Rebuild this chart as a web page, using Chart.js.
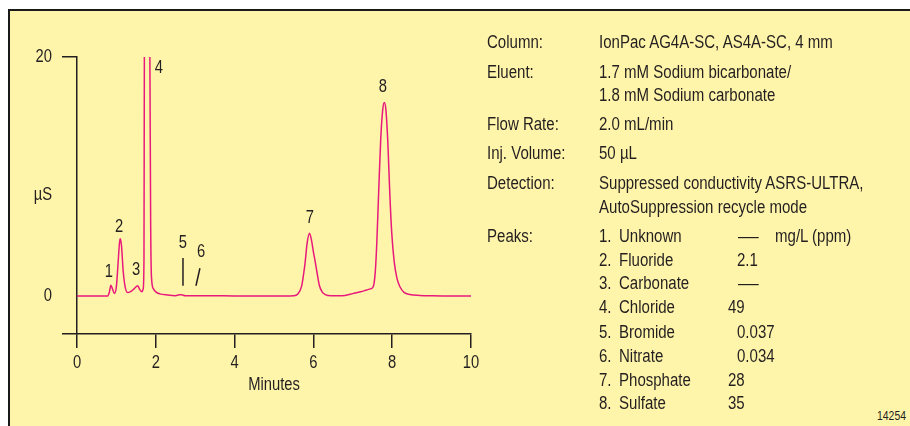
<!DOCTYPE html>
<html>
<head>
<meta charset="utf-8">
<script src="https://cdn.jsdelivr.net/npm/chart.js@4.4.1/dist/chart.umd.min.js"></script>
<style>
  body { margin:0; width:910px; height:426px; overflow:hidden; background:#fff; position:relative;
         font-family:"Liberation Sans",Arial,sans-serif; color:#231f20; }
  #frame { position:absolute; left:8px; top:9px; width:910px; height:430px;
           border-top:2px solid #1a1a1a; border-left:2px solid #1a1a1a; background:#fff5aa; }
  #chart { position:absolute; left:0; top:0; }
  /* narrow look: Liberation Sans squeezed like a condensed face */
  .t { position:absolute; font-size:18px; line-height:20px; white-space:nowrap;
       transform:scaleX(0.835); transform-origin:0 0; }
  .dash { transform:scaleX(1.15); }
  .small { font-size:12.5px; }
</style>
</head>
<body>
<div id="frame"></div>
<canvas id="chart" width="500" height="426"></canvas>

<!-- Run conditions -->
<div class="t" style="left:487px; top:32px">Column:</div>
<div class="t" style="left:599px; top:32px">IonPac AG4A-SC, AS4A-SC, 4 mm</div>
<div class="t" style="left:487px; top:62px">Eluent:</div>
<div class="t" style="left:599px; top:62px">1.7 mM Sodium bicarbonate/</div>
<div class="t" style="left:599px; top:85px">1.8 mM Sodium carbonate</div>
<div class="t" style="left:487px; top:114px">Flow Rate:</div>
<div class="t" style="left:599px; top:114px">2.0 mL/min</div>
<div class="t" style="left:487px; top:143px">Inj. Volume:</div>
<div class="t" style="left:599px; top:143px">50 µL</div>
<div class="t" style="left:487px; top:173px">Detection:</div>
<div class="t" style="left:599px; top:173px">Suppressed conductivity ASRS-ULTRA,</div>
<div class="t" style="left:599px; top:197px">AutoSuppression recycle mode</div>
<div class="t" style="left:487px; top:226px">Peaks:</div>
<div id="peaks"></div>
<div class="t" style="left:775px; top:226px">mg/L (ppm)</div>
<div class="t small" style="left:877px; top:406px">14254</div>

<script>
// Chromatogram trace (minutes, µS)
const traceTime = [0, 0.78, 0.82, 0.86, 0.90, 0.95, 1.00, 1.04, 1.08, 1.10, 1.13, 1.17, 1.22, 1.28, 1.35,
  1.45, 1.54, 1.60, 1.65, 1.68, 1.70, 1.71, 1.78, 1.85, 1.87, 1.89, 1.94, 2.0, 2.1, 2.3, 2.5, 2.6, 2.65,
  2.75, 3.0, 3.5, 4.0, 5.0, 5.5, 5.6, 5.7, 5.75, 5.79, 5.84, 5.90, 5.95, 6.0, 6.05, 6.1, 6.15, 6.22, 6.3,
  6.45, 6.8, 7.0, 7.2, 7.35, 7.45, 7.52, 7.57, 7.61, 7.66, 7.71, 7.76, 7.80, 7.84, 7.89, 7.94, 7.99,
  8.05, 8.12, 8.2, 8.3, 8.45, 8.7, 9.0, 10.0];
const traceSignal = [0, 0, 0.3, 0.9, 0.6, 0.2, 0.8, 2.6, 4.5, 4.8, 4.2, 2.2, 0.8, 0.3, 0.35,
  0.6, 0.85, 0.5, 0.35, 0.6, 3, 20, 45, 20, 6, 1.6, 0.6, 0.35, 0.18, 0.08, 0.03, 0.1, 0.1,
  0.02, 0.03, 0.02, 0, 0, 0.03, 0.15, 0.8, 1.8, 2.8, 4.4, 5.25, 4.7, 3.7, 2.8, 1.8, 0.9, 0.35, 0.12,
  0.02, 0.05, 0.2, 0.35, 0.5, 0.6, 0.8, 2.0, 4.5, 9, 13.2, 15.6, 16.2, 15.6, 12.8, 8.5, 5.2,
  2.9, 1.5, 0.75, 0.3, 0.12, 0.05, 0.02, 0];

const xTicks = [0, 2, 4, 6, 8, 10];
const yTicks = [0, 20];

// Peak numbers placed above the peaks (minutes, µS)
const peakNums = ['1', '2', '3', '4', '5', '6', '7', '8'];
const peakLabelTime = [0.81, 1.07, 1.50, 2.08, 2.69, 3.15, 5.91, 7.76];
const peakLabelSignal = [2.0, 5.8, 2.18, 19.05, 4.46, 3.66, 6.5, 17.46];
// small marker strokes for peaks 5 and 6: [t1, s1, t2, s2]
const peakMarkers = [[2.69, 3.18, 2.69, 0.86], [3.12, 2.32, 3.02, 0.86]];

// Peak table
const peakNames = ['Unknown', 'Fluoride', 'Carbonate', 'Chloride', 'Bromide', 'Nitrate', 'Phosphate', 'Sulfate'];
const peakConc = ['—', '2.1', '—', '49', '0.037', '0.034', '28', '35'];
const peakConcLeft = [738, 737, 738, 728, 737, 737, 728, 728];
const peakRowTop = [226, 250, 273, 297, 322, 346, 370, 393];

const FONT = '"Liberation Sans",Arial,sans-serif';
const SQUEEZE = 0.82;
const TEXT = '#231f20';
const AXIS = '#231f20';
const LINE = '#e8197c';

// build peaks list
const peaksDiv = document.getElementById('peaks');
peakNames.forEach((n, i) => {
    const cls = peakConc[i] === '—' ? 't dash' : 't';
    peaksDiv.innerHTML +=
        `<div class="t" style="left:599px; top:${peakRowTop[i]}px">${i + 1}.</div>` +
        `<div class="t" style="left:619px; top:${peakRowTop[i]}px">${n}</div>` +
        `<div class="${cls}" style="left:${peakConcLeft[i]}px; top:${peakRowTop[i]}px">${peakConc[i]}</div>`;
});

// squeezed text helper for canvas
function narrowText(ctx, str, px, py, align) {
    ctx.save();
    ctx.translate(px, py);
    ctx.scale(SQUEEZE, 1);
    ctx.textAlign = align;
    ctx.fillText(str, 0, 0);
    ctx.restore();
}

// tick labels, peak numbers, marker strokes and axis titles
const peakMarks = {
    id: 'peakMarks',
    afterDatasetsDraw(chart) {
        const { ctx, scales: { x, y }, chartArea } = chart;
        ctx.save();
        ctx.font = '18px ' + FONT;
        ctx.fillStyle = TEXT;
        ctx.textBaseline = 'middle';
        xTicks.forEach(v => narrowText(ctx, String(v), x.getPixelForValue(v), chartArea.bottom + 29, 'center'));
        yTicks.forEach(v => narrowText(ctx, String(v), x.getPixelForValue(0) - 25, y.getPixelForValue(v), 'right'));
        narrowText(ctx, 'Minutes', x.getPixelForValue(5), chartArea.bottom + 51, 'center');
        narrowText(ctx, 'µS', chartArea.left - 20, (chartArea.top + chartArea.bottom) / 2, 'center');
        peakNums.forEach((n, i) => {
            narrowText(ctx, n, x.getPixelForValue(peakLabelTime[i]), y.getPixelForValue(peakLabelSignal[i]), 'center');
        });
        ctx.strokeStyle = TEXT;
        ctx.lineWidth = 1.5;
        peakMarkers.forEach(m => {
            ctx.beginPath();
            ctx.moveTo(x.getPixelForValue(m[0]), y.getPixelForValue(m[1]));
            ctx.lineTo(x.getPixelForValue(m[2]), y.getPixelForValue(m[3]));
            ctx.stroke();
        });
        ctx.restore();
    }
};

new Chart(document.getElementById('chart'), {
    type: 'line',
    data: {
        datasets: [{
            data: traceTime.map((t, i) => ({ x: t, y: traceSignal[i] })),
            borderColor: LINE,
            borderWidth: 1.5,
            pointRadius: 0,
            cubicInterpolationMode: 'monotone',
            fill: false
        }]
    },
    options: {
        responsive: false,
        animation: false,
        devicePixelRatio: 1,
        layout: { padding: { left: 63, top: 57, right: 29, bottom: 0 } },
        plugins: { legend: { display: false }, tooltip: { enabled: false } },
        scales: {
            x: {
                type: 'linear', min: -0.355, max: 10,
                afterBuildTicks: s => { s.ticks = xTicks.map(v => ({ value: v })); },
                afterFit: s => { s.height = 92; },
                grid: { drawOnChartArea: false, tickLength: 14, color: AXIS, lineWidth: 1.5 },
                border: { color: AXIS, width: 1.5 },
                ticks: { display: false }
            },
            y: {
                type: 'linear', min: -3.18, max: 20, position: { x: 0 },
                afterBuildTicks: s => { s.ticks = yTicks.map(v => ({ value: v })); },
                grid: {
                    drawOnChartArea: false, tickLength: 14, lineWidth: 1.5,
                    color: c => (c.tick && c.tick.value === 20) ? AXIS : 'rgba(0,0,0,0)'
                },
                border: { color: AXIS, width: 1.5 },
                ticks: { display: false }
            }
        }
    },
    plugins: [peakMarks]
});
</script>
</body>
</html>
